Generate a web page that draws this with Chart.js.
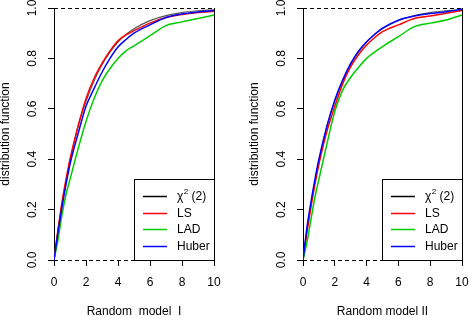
<!DOCTYPE html>
<html>
<head>
<meta charset="utf-8">
<script src="https://cdn.jsdelivr.net/npm/chart.js@4"></script>
<style>
html, body { margin: 0; padding: 0; background: #fff; overflow: hidden; }
#wrap { position: relative; width: 470px; height: 316px; }
#c1 { position: absolute; left: 0; top: 0; }
#c2 { position: absolute; left: 249px; top: 0; }
</style>
</head>
<body>
<div id="wrap">
  <canvas id="c1" width="235" height="316"></canvas>
  <canvas id="c2" width="221" height="316"></canvas>
</div>
<script>
// values
var xGrid = [0, 0.25, 0.5, 0.75, 1, 1.5, 2, 2.5, 3, 3.5, 4, 4.5, 5, 6, 7, 8, 9, 10];
var chiCdf = [0, 0.12, 0.22, 0.31, 0.39, 0.53, 0.63, 0.71, 0.775, 0.825, 0.865, 0.895, 0.918, 0.95, 0.97, 0.982, 0.989, 0.993];

var lsModel1 = [0, 0.12, 0.23, 0.32, 0.40, 0.53, 0.64, 0.72, 0.78, 0.83, 0.87, 0.893, 0.91, 0.94, 0.962, 0.974, 0.982, 0.987];
var ladModel1 = [0, 0.08, 0.18, 0.26, 0.32, 0.44, 0.55, 0.64, 0.71, 0.76, 0.80, 0.83, 0.85, 0.89, 0.93, 0.945, 0.958, 0.972];
var huberModel1 = [0, 0.11, 0.21, 0.30, 0.38, 0.50, 0.61, 0.68, 0.745, 0.80, 0.845, 0.875, 0.90, 0.933, 0.962, 0.976, 0.984, 0.99];

var lsModel2 = [0, 0.11, 0.21, 0.30, 0.38, 0.51, 0.61, 0.70, 0.767, 0.815, 0.853, 0.882, 0.906, 0.933, 0.958, 0.968, 0.979, 0.99];
var ladModel2 = [0, 0.07, 0.16, 0.25, 0.32, 0.46, 0.59, 0.675, 0.725, 0.765, 0.80, 0.825, 0.847, 0.886, 0.926, 0.94, 0.952, 0.972];
var huberModel2 = [0, 0.13, 0.23, 0.32, 0.40, 0.53, 0.635, 0.715, 0.78, 0.83, 0.866, 0.895, 0.92, 0.952, 0.968, 0.978, 0.985, 0.995];

var seriesNames = ['χ2 (2)', 'LS', 'LAD', 'Huber'];
var seriesColors = ['#000000', '#ff0000', '#00cd00', '#0000ff'];
var yTicks = [0, 0.2, 0.4, 0.6, 0.8, 1.0];
var xTicks = [0, 2, 4, 6, 8, 10];

var FONT = '"Liberation Sans", Arial, sans-serif';

function pts(ys) {
  return xGrid.map(function (x, i) { return { x: x, y: ys[i] }; });
}

// dashed 0/1 lines, side lines and the boxed legend
var framePlugin = {
  id: 'frame',
  beforeDatasetsDraw: function (chart) {
    var ctx = chart.ctx, a = chart.chartArea, x = chart.scales.x, y = chart.scales.y;
    ctx.save();
    ctx.strokeStyle = '#000';
    ctx.lineWidth = 1;
    ctx.setLineDash([4, 3]);
    [0, 1].forEach(function (v) {
      var py = Math.round(y.getPixelForValue(v)) + 0.5;
      ctx.beginPath(); ctx.moveTo(a.left, py); ctx.lineTo(a.right, py); ctx.stroke();
    });
    ctx.setLineDash([]);
    [0, 10].forEach(function (v) {
      var px = Math.round(x.getPixelForValue(v)) + 0.5;
      ctx.beginPath(); ctx.moveTo(px, y.getPixelForValue(1)); ctx.lineTo(px, y.getPixelForValue(0)); ctx.stroke();
    });
    ctx.restore();
  },
  afterDraw: function (chart) {
    var ctx = chart.ctx, a = chart.chartArea;
    var w = 80, h = 81;
    var bx = Math.round(a.right) - w, by = Math.round(a.bottom) - h;
    ctx.save();
    ctx.fillStyle = '#fff';
    ctx.fillRect(bx, by, w, h);
    ctx.strokeStyle = '#000';
    ctx.lineWidth = 1;
    ctx.strokeRect(bx + 0.5, by + 0.5, w, h);
    ctx.textBaseline = 'middle';
    ctx.textAlign = 'left';
    seriesNames.forEach(function (name, i) {
      var ly = Math.round(by + 17 + i * 16.7) + 0.5;
      ctx.strokeStyle = seriesColors[i];
      ctx.lineWidth = 1.5;
      ctx.beginPath(); ctx.moveTo(bx + 9, ly); ctx.lineTo(bx + 33, ly); ctx.stroke();
      ctx.fillStyle = '#000';
      ctx.font = '12px ' + FONT;
      var tx = bx + 43;
      if (i === 0) {
        ctx.fillText('χ', tx, ly);
        tx += ctx.measureText('χ').width + 0.5;
        ctx.font = '8px ' + FONT;
        ctx.fillText('2', tx, ly - 5);
        tx += ctx.measureText('2').width;
        ctx.font = '12px ' + FONT;
        ctx.fillText(' (2)', tx, ly);
      } else {
        ctx.fillText(name, tx, ly);
      }
    });
    ctx.restore();
  }
};

function makeChart(id, xTitle, ls, lad, huber, padRight) {
  var all = [chiCdf, ls, lad, huber];
  var lineColors = ['#555555', seriesColors[1], seriesColors[2], seriesColors[3]];
  return new Chart(document.getElementById(id).getContext('2d'), {
    type: 'line',
    data: {
      datasets: all.map(function (ys, i) {
        return {
          label: seriesNames[i],
          data: pts(ys),
          borderColor: lineColors[i],
          borderWidth: i === 0 ? 1.2 : 1.5,
          pointRadius: 0,
          fill: false,
          cubicInterpolationMode: 'monotone',
          order: 4 - i
        };
      })
    },
    plugins: [framePlugin],
    options: {
      responsive: false,
      animation: false,
      devicePixelRatio: 1,
      layout: { padding: { top: 8, right: padRight, bottom: 0, left: 0 } },
      plugins: { legend: { display: false }, tooltip: { enabled: false } },
      scales: {
        x: {
          type: 'linear',
          min: 0, max: 10,
          afterBuildTicks: function (s) { s.ticks = xTicks.map(function (v) { return { value: v }; }); },
          afterFit: function (s) { s.height = 56; s.paddingLeft = 0; s.paddingRight = 0; },
          border: { display: false },
          grid: { drawOnChartArea: false, drawTicks: true, tickLength: 6, color: '#000' },
          ticks: { color: '#000', padding: 9, font: { family: FONT, size: 12 } },
          title: { display: true, text: xTitle, color: '#000', font: { family: FONT, size: 12 }, padding: { top: 0, bottom: -3 } }
        },
        y: {
          min: 0, max: 1,
          afterBuildTicks: function (s) { s.ticks = yTicks.map(function (v) { return { value: v }; }); },
          afterFit: function (s) { s.width = 54; s.paddingTop = 0; s.paddingBottom = 0; },
          border: { display: false },
          grid: { drawOnChartArea: false, drawTicks: true, tickLength: 6, color: '#000' },
          ticks: {
            color: '#000', padding: 7, minRotation: 90, maxRotation: 90, crossAlign: 'center',
            font: { family: FONT, size: 12 },
            callback: function (v) { return Number(v).toFixed(1); }
          },
          title: { display: true, text: 'distribution function', color: '#000', font: { family: FONT, size: 12 }, padding: { top: -2, bottom: 0 } }
        }
      }
    }
  });
}

makeChart('c1', 'Random  model  I', lsModel1, ladModel1, huberModel1, 21);
makeChart('c2', 'Random model II', lsModel2, ladModel2, huberModel2, 8);
</script>
</body>
</html>
